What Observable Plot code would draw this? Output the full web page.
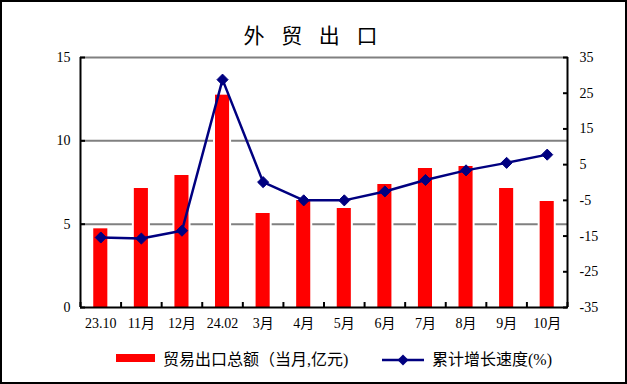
<!DOCTYPE html>
<html><head><meta charset="utf-8">
<script src="https://cdn.jsdelivr.net/npm/d3@7"></script>
<script src="https://cdn.jsdelivr.net/npm/@observablehq/plot@0.6"></script>
<style>
body{margin:0;background:#fff;}
#wrap{position:relative;width:627px;height:384px;overflow:hidden;background:#fff;}
#frame{position:absolute;left:0;top:0;width:627px;height:384px;box-sizing:border-box;border:2px solid #000;pointer-events:none;}
#title{position:absolute;left:0;top:22px;width:627px;text-align:center;font-family:"Noto Sans CJK SC",sans-serif;font-size:21px;line-height:24px;letter-spacing:6px;white-space:pre;color:#000;}
#chart{position:absolute;left:0;top:0;}
.lt{position:absolute;font-family:"Liberation Serif","Noto Sans CJK SC",serif;font-size:16px;line-height:22px;white-space:pre;color:#000;}
</style>
</head><body>
<div id="wrap">
  <div id="chart"></div>
  <div id="title">外 贸 出 口</div>
  <div style="position:absolute;left:116px;top:354px;width:39px;height:8px;background:#ff0000"></div>
  <div class="lt" style="left:163px;top:349px">贸易出口总额（当月,亿元)</div>
  <svg style="position:absolute;left:380px;top:352px" width="46" height="16">
    <line x1="2" y1="8" x2="44" y2="8" stroke="#000080" stroke-width="2.5"/>
    <path d="M23,2.5L28.5,8L23,13.5L17.5,8Z" fill="#000080"/>
  </svg>
  <div class="lt" style="left:432px;top:349px">累计增长速度(%)</div>
  <div id="frame"></div>
</div>
<script>
const categories = ["23.10","11月","12月","24.02","3月","4月","5月","6月","7月","8月","9月","10月"];
const exportValues = [4.72, 7.14, 7.92, 12.74, 5.64, 6.42, 5.94, 7.38, 8.34, 8.46, 7.14, 6.36];
const growthValues = [-15.4, -15.7, -13.5, 28.8, 0.1, -5.0, -5.0, -2.5, 0.7, 3.4, 5.5, 7.8];
const leftTicks = [0, 5, 10, 15];
const rightTicks = [-35, -25, -15, -5, 5, 15, 25, 35];
const gridValues = [5, 10, 15];
const leftDomain = [0, 15];
const rightDomain = [-35, 35];

const toLeft = v => leftDomain[0] + (v - rightDomain[0]) * (leftDomain[1] - leftDomain[0]) / (rightDomain[1] - rightDomain[0]);
const fromLeft = v => rightDomain[0] + (v - leftDomain[0]) * (rightDomain[1] - rightDomain[0]) / (leftDomain[1] - leftDomain[0]);

const data = categories.map((c, i) => ({i, c, value: exportValues[i], growth: growthValues[i], g: toLeft(growthValues[i])}));
const n = categories.length;

const chart = Plot.plot({
  width: 627, height: 384,
  marginLeft: 80, marginRight: 60, marginTop: 57, marginBottom: 77,
  style: {fontFamily: '"Liberation Serif","Noto Sans CJK SC",serif', fontSize: "14px", color: "#000", background: "transparent", overflow: "visible"},
  x: {type: "linear", domain: [0, n], label: null},
  y: {domain: leftDomain, label: null},
  marks: [
    Plot.ruleY(gridValues, {stroke: "#808080", strokeWidth: 2}),
    Plot.rectY(data, {x1: "i", x2: d => d.i + 1, y1: 0, y2: "value", fill: "#ffffff", insetLeft: 11.25, insetRight: 11.25, insetTop: -2}),
    Plot.rectY(data, {x1: "i", x2: d => d.i + 1, y1: 0, y2: "value", fill: "#ff0000", insetLeft: 13.25, insetRight: 13.25}),
    Plot.ruleX([0, n], {stroke: "#000", strokeWidth: 2}),
    Plot.ruleY([0], {stroke: "#000", strokeWidth: 2}),
    Plot.axisY(leftTicks, {anchor: "left", tickSize: 5, dx: 5, text: null, strokeWidth: 2}),
    Plot.axisY(leftTicks, {anchor: "left", tickSize: 0, tickPadding: 10, fontSize: 14}),
    Plot.axisY(rightTicks.map(toLeft), {anchor: "right", tickSize: 5, dx: -5, text: null, strokeWidth: 2}),
    Plot.axisY(rightTicks.map(toLeft), {anchor: "right", tickSize: 0, tickPadding: 12, fontSize: 14, tickFormat: d => String(Math.round(fromLeft(d)))}),
    Plot.axisX(d3.range(n + 1), {anchor: "bottom", tickSize: 5, dy: -5, text: null, strokeWidth: 2}),
    Plot.axisX(data.map(d => d.i + 0.5), {anchor: "bottom", tickSize: 0, tickPadding: 11, fontSize: 14, tickFormat: v => categories[Math.floor(v)]}),
    Plot.line(data, {x: d => d.i + 0.5, y: "g", stroke: "#000080", strokeWidth: 2.5}),
    Plot.dot(data, {x: d => d.i + 0.5, y: "g", symbol: "diamond2", r: 5, fill: "#000080", stroke: "#000080", strokeWidth: 1})
  ]
});
document.getElementById("chart").appendChild(chart);
</script>
</body></html>
